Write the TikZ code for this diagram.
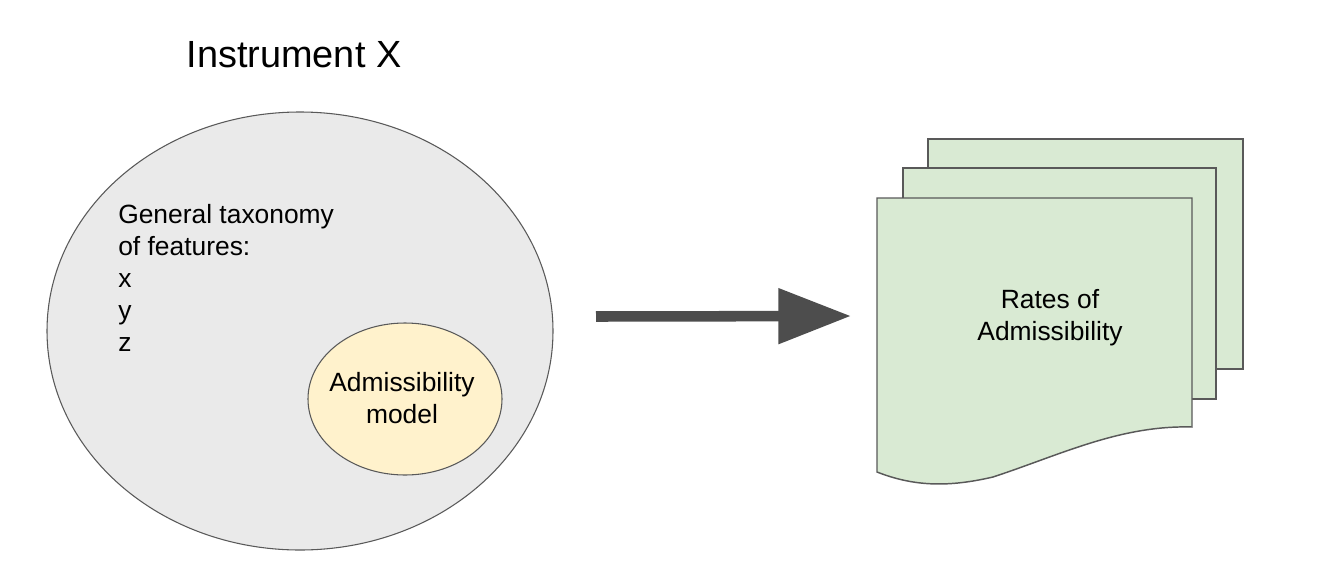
\documentclass[tikz,border=0pt]{standalone}
\usepackage{fontspec}
\setmainfont{Liberation Sans}
\usetikzlibrary{shapes.geometric,arrows.meta}
\definecolor{edgegray}{HTML}{595959}
\definecolor{bigfill}{HTML}{EAEAEA}
\definecolor{yellowfill}{HTML}{FFF2CC}
\definecolor{greenfill}{HTML}{D9EAD3}
\definecolor{arrowgray}{HTML}{4D4D4D}
\tikzset{
  bodytext/.style={font=\fontsize{19.8}{24}\selectfont, inner sep=0pt},
  titletext/.style={font=\fontsize{28.4}{32}\selectfont, inner sep=0pt},
  ell/.style={ellipse, draw=edgegray, line width=0.8pt, inner sep=0pt},
  docpage/.style={draw=edgegray, fill=greenfill, line width=1.1pt},
  bigarrow/.style={draw=arrowgray, line width=7.9pt,
    -{Triangle[length=54.5pt, width=40pt, fill=arrowgray]}}
}
\begin{document}
\begin{tikzpicture}[x=0.75pt, y=-0.75pt]
\useasboundingbox (0,0) rectangle (1325,572);
% title
\node[titletext] (title) at (294,55) {Instrument X};
% big ellipse
\node[ell, fill=bigfill, minimum width=379.5pt, minimum height=328.5pt] (big) at (300,331) {};
\node[bodytext, anchor=north west, align=left] (tax) at (118,204)
  {General taxonomy\\of features:\\x\\y\\z};
% small ellipse
\node[ell, fill=yellowfill, minimum width=145.5pt, minimum height=114pt] (small) at (405,399) {};
\node[bodytext, align=center] (admtext) at (402,398) {Admissibility\\model};
% documents
\draw[docpage] (928,139) rectangle (1243,369);
\draw[docpage] (903,168) rectangle (1216,399);
\draw[docpage] (877,198) -- (1192,198) -- (1192,427)
  .. controls (1120,425) and (1060,455) .. (993,477)
  .. controls (950,487) and (915,487) .. (877,472) -- cycle;
\node[bodytext, align=center] (rates) at (1050,318) {Rates of\\Admissibility};
% arrow
\coordinate (astart) at (596,316.5);
\coordinate (aend) at (851,316);
\draw[bigarrow] (astart) -- (aend);
\end{tikzpicture}
\end{document}
